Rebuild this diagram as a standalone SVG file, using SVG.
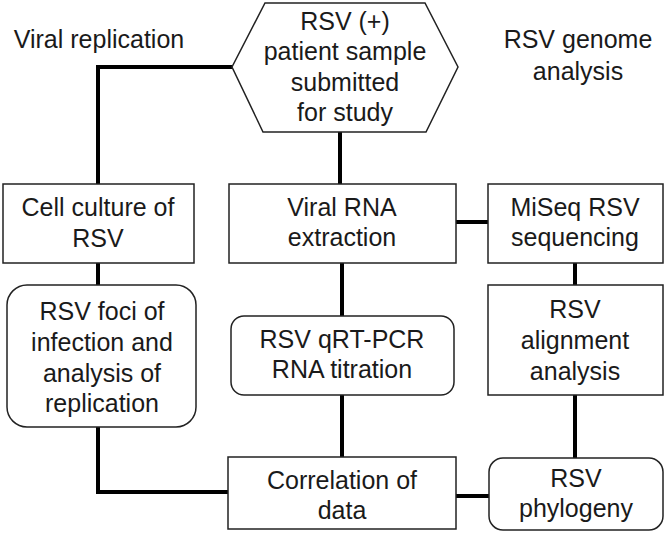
<svg xmlns="http://www.w3.org/2000/svg" width="666" height="533" viewBox="0 0 666 533">
<style>
.box{fill:#fff;stroke:#222;stroke-width:1.5}
.conn{fill:none;stroke:#000;stroke-width:4;stroke-linejoin:miter}
text{font-family:"Liberation Sans",Arial,sans-serif;font-size:25px;fill:#1a1a1a;text-anchor:middle}
</style>
<rect width="666" height="533" fill="#fff"/>
<g id="connectors">
<polyline class="conn" points="232,67 98,67 98,184"/>
<line class="conn" x1="340" y1="132" x2="340" y2="184"/>
<line class="conn" x1="98" y1="263" x2="98" y2="285"/>
<line class="conn" x1="456" y1="222" x2="488" y2="222"/>
<line class="conn" x1="342" y1="263" x2="342" y2="316"/>
<line class="conn" x1="575" y1="263" x2="575" y2="285"/>
<polyline class="conn" points="98,427 98,492 228,492"/>
<line class="conn" x1="342" y1="395" x2="342" y2="457"/>
<line class="conn" x1="575" y1="395" x2="575" y2="458"/>
<line class="conn" x1="456" y1="496" x2="489" y2="496"/>
</g>
<g id="label-viral-replication"><text x="99" y="48">Viral replication</text></g>
<g id="label-genome"><text x="578" y="48">RSV genome</text><text x="578" y="80">analysis</text></g>
<g id="sample">
<polygon class="box" points="265,3 425,3 458,67 426,132 263,132 232,67"/>
<text x="345" y="30">RSV (+)</text>
<text x="345" y="60">patient sample</text>
<text x="345" y="91">submitted</text>
<text x="345" y="121">for study</text>
</g>
<g id="cell-culture">
<rect class="box" x="3" y="184" width="191" height="79"/>
<text x="98" y="216">Cell culture of</text>
<text x="98" y="247">RSV</text>
</g>
<g id="viral-rna">
<rect class="box" x="229" y="184" width="227" height="79"/>
<text x="342" y="216">Viral RNA</text>
<text x="342" y="246">extraction</text>
</g>
<g id="miseq">
<rect class="box" x="488" y="184" width="175" height="79"/>
<text x="575" y="216">MiSeq RSV</text>
<text x="575" y="246">sequencing</text>
</g>
<g id="foci">
<rect class="box" x="7" y="285" width="189" height="142" rx="20" ry="20"/>
<text x="102" y="320">RSV foci of</text>
<text x="102" y="351">infection and</text>
<text x="102" y="382">analysis of</text>
<text x="102" y="412">replication</text>
</g>
<g id="qrtpcr">
<rect class="box" x="231" y="316" width="223" height="79" rx="13" ry="13"/>
<text x="342" y="348">RSV qRT-PCR</text>
<text x="342" y="378">RNA titration</text>
</g>
<g id="alignment">
<rect class="box" x="488" y="285" width="175" height="110"/>
<text x="575" y="318">RSV</text>
<text x="575" y="349">alignment</text>
<text x="575" y="380">analysis</text>
</g>
<g id="correlation">
<rect class="box" x="228" y="457" width="228" height="72"/>
<text x="342" y="489">Correlation of</text>
<text x="342" y="519">data</text>
</g>
<g id="phylogeny">
<rect class="box" x="489" y="458" width="174" height="72" rx="14" ry="14"/>
<text x="576" y="487">RSV</text>
<text x="576" y="517">phylogeny</text>
</g>
</svg>
